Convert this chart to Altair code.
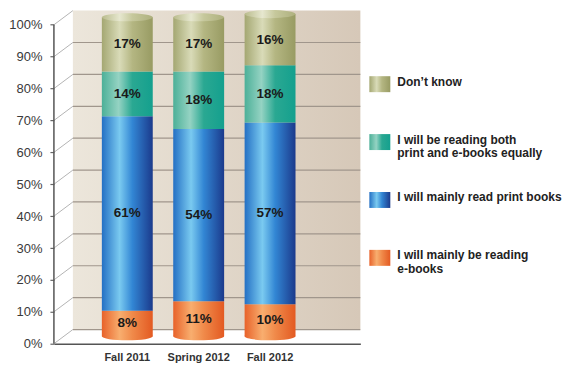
import altair as alt
import pandas as pd

# ---- data ----
periods = ["Fall 2011", "Spring 2012", "Fall 2012"]
ebooks = [8, 11, 10]
print_books = [61, 54, 57]
both_equally = [14, 18, 18]
dont_know = [17, 17, 16]

answer_keys = ["ebooks", "print", "both", "dont"]
legend_keys = ["dont", "both", "print", "ebooks"]
legend_labels = [
    "Don\u2019t know",
    "I will be reading both\nprint and e-books equally",
    "I will mainly read print books",
    "I will mainly be reading\ne-books",
]
y_ticks = [0, 10, 20, 30, 40, 50, 60, 70, 80, 90, 100]

series = [ebooks, print_books, both_equally, dont_know]
rows = []
for i, p in enumerate(periods):
    for k, (key, vals) in enumerate(zip(answer_keys, series)):
        rows.append({"period": p, "key": key, "order": k, "value": vals[i]})
df = pd.DataFrame(rows)
ticks_df = pd.DataFrame({"tick": y_ticks})
wall_df = pd.DataFrame({"lo": [min(y_ticks)], "hi": [max(y_ticks)]})
legend_df = pd.DataFrame({"idx": list(range(len(legend_keys))),
                          "key": legend_keys, "label": legend_labels})


def grad(stops):
    return alt.LinearGradient(
        gradient="linear", x1=0, x2=1, y1=0, y2=0,
        stops=[alt.GradientStop(color=c, offset=o) for o, c in stops])


GRAD = {
    "ebooks": grad([(0, "#e8622a"), (0.35, "#f8ae6f"), (0.6, "#f08a4a"), (1, "#e35a22")]),
    "print": grad([(0, "#2470c4"), (0.35, "#7acaf0"), (0.6, "#3286d4"), (1, "#1b3a8c")]),
    "both": grad([(0, "#4cb098"), (0.33, "#95d3c3"), (0.6, "#2aa892"), (1, "#14a08e")]),
    "dont": grad([(0, "#a4a772"), (0.35, "#d9dbb8"), (0.6, "#b4b682"), (1, "#989b63")]),
}
CAP = grad([(0, "#b9bb8c"), (0.35, "#e6e7cf"), (0.6, "#c6c89c"), (1, "#aeb07e")])
WALL = grad([(0, "#ece6db"), (1, "#d6c8b8")])

W = 307
H = 335
DEPTH = 14.2
BAR_OFF = -7.5
FONT = "Liberation Sans"

yscale = alt.Scale(domain=[0, 104.85], nice=False, zero=False)
yaxis = alt.Axis(values=y_ticks, labelExpr="datum.value + '%'", grid=False,
                 domain=False, tickColor="#666", tickWidth=1.2, tickSize=4,
                 labelPadding=8, labelFontSize=13, labelColor="#3a3a3a",
                 labelFont=FONT, title=None)
xscale = alt.Scale(domain=periods, paddingInner=0.287, paddingOuter=0.79, align=0.425)
xaxis = alt.Axis(title=None, ticks=False, domainColor="#555", domainWidth=1.5,
                 labelAngle=0, labelFont=FONT, labelFontWeight="bold",
                 labelFontSize=11, labelColor="#333", labelPadding=8)

wall = alt.Chart(wall_df).mark_rect(
    color=WALL, yOffset=-DEPTH, y2Offset=-DEPTH
).encode(x=alt.value(19), x2=alt.value(W),
         y=alt.Y("hi:Q", scale=yscale, axis=yaxis), y2="lo:Q")

back_grid = alt.Chart(ticks_df).transform_filter(alt.datum.tick < 100).mark_rule(
    color="#a0968c", strokeWidth=1.2, yOffset=-DEPTH
).encode(x=alt.value(19), x2=alt.value(W),
         y=alt.Y("tick:Q", scale=yscale, axis=yaxis))

diag = alt.Chart(ticks_df).mark_rule(
    color="#b4b4b4", strokeWidth=1, y2Offset=-DEPTH
).encode(x=alt.value(0), x2=alt.value(19),
         y=alt.Y("tick:Q", scale=yscale, axis=yaxis), y2=alt.Y2("tick:Q"))

front_axis = alt.Chart(wall_df).mark_rule(color="#555", strokeWidth=1.5).encode(
    x=alt.value(0), y=alt.Y("hi:Q", scale=yscale, axis=yaxis), y2="lo:Q")

stacked = alt.Chart(df).transform_stack(
    stack="value", groupby=["period"],
    sort=[alt.SortField("order", order="ascending")], as_=["y0", "y1"])

X = alt.X("period:N", scale=xscale, axis=xaxis, sort=periods)

bar_layers = []
for key in answer_keys:
    bar_layers.append(
        stacked.transform_filter(alt.datum.key == key).mark_bar(
            color=GRAD[key], yOffset=BAR_OFF, y2Offset=BAR_OFF, strokeWidth=0
        ).encode(x=X, y=alt.Y("y1:Q", scale=yscale, axis=yaxis), y2="y0:Q"))

ELLIPSE = "M-1,0A1,0.16 0 1,0 1,0A1,0.16 0 1,0 -1,0Z"
bottom_cap = stacked.transform_filter(alt.datum.key == "ebooks").mark_point(
    shape=ELLIPSE, size=2601, filled=True, color=GRAD["ebooks"], opacity=1,
    strokeWidth=0, yOffset=BAR_OFF
).encode(x=X, y=alt.Y("y0:Q", scale=yscale, axis=yaxis))
top_cap = stacked.transform_filter(alt.datum.key == "dont").mark_point(
    shape=ELLIPSE, size=2601, filled=True, color=CAP, opacity=1,
    strokeWidth=0, yOffset=BAR_OFF
).encode(x=X, y=alt.Y("y1:Q", scale=yscale, axis=yaxis))

labels = stacked.transform_calculate(
    mid="(datum.y0 + datum.y1) / 2", label="datum.value + '%'"
).mark_text(font=FONT, fontWeight="bold", fontSize=13.5, color="#1a1a1a",
            yOffset=BAR_OFF).encode(
    x=X, y=alt.Y("mid:Q", scale=yscale, axis=yaxis), text="label:N")

left = alt.layer(wall, back_grid, diag, front_axis, bottom_cap, *bar_layers,
                 top_cap, labels).properties(width=W, height=H)

# ---- legend panel ----
lscale = alt.Scale(domain=[-1.293, 4.483], reverse=True, nice=False, zero=False)
RECT = "M-1,-0.762L1,-0.762L1,0.762L-1,0.762Z"
swatches = []
for key in legend_keys:
    swatches.append(
        alt.Chart(legend_df).transform_filter(alt.datum.key == key).mark_point(
            shape=RECT, size=441, filled=True, color=GRAD[key], opacity=1,
            strokeWidth=0
        ).encode(x=alt.value(10.5), y=alt.Y("idx:Q", scale=lscale, axis=None)))
legend_text = alt.Chart(legend_df).mark_text(
    align="left", baseline="top", dy=-7.5, lineBreak="\n", lineHeight=13.5,
    font=FONT, fontSize=12, fontWeight="bold", color="#222"
).encode(x=alt.value(28), y=alt.Y("idx:Q", scale=lscale, axis=None),
         text="label:N")
legend = alt.layer(*swatches, legend_text).properties(width=186, height=H)

chart = alt.hconcat(left, legend, spacing=8).properties(
    padding={"left": 0, "top": 1, "right": 0, "bottom": 0}
).configure_view(stroke=None)

chart.save("out.html", embed_options={"renderer": "svg", "actions": False})
